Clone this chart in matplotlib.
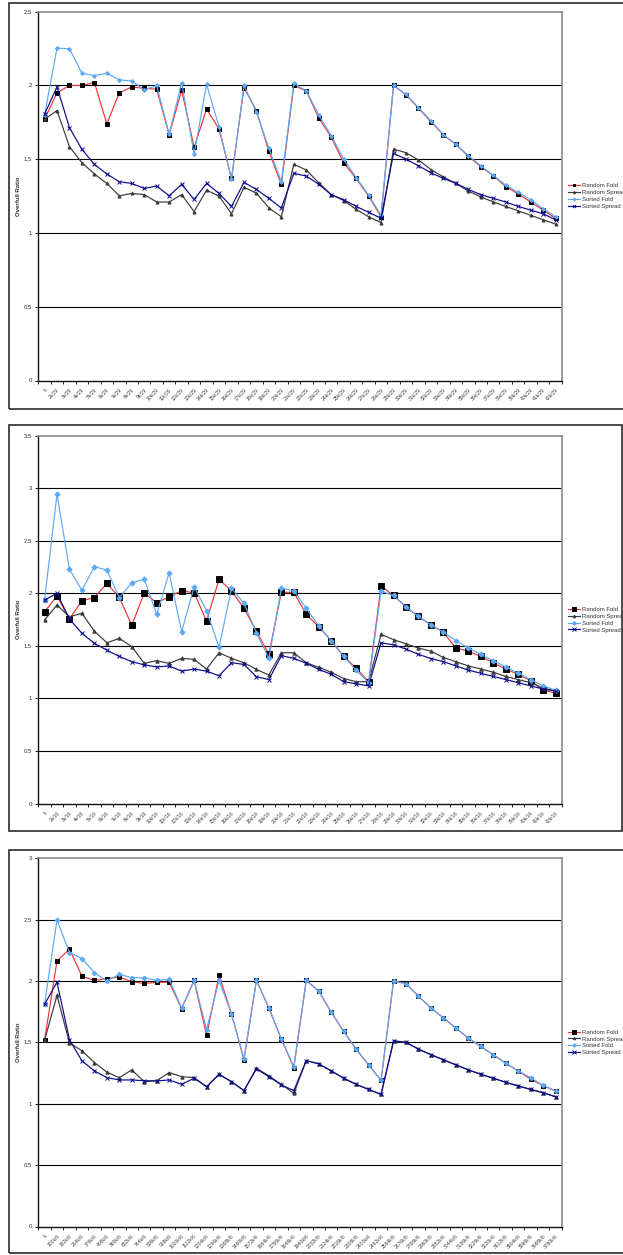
import matplotlib
matplotlib.use("Agg")
import matplotlib.pyplot as plt
from matplotlib.patches import Rectangle

plt.rcParams['font.family'] = ['Liberation Sans', 'DejaVu Sans']

# ---------------- data ----------------
series_names = ["Random Fold", "Random Spread", "Sorted Fold", "Sorted Spread"]

xl1 = ["k"] + [f"{i}k/29" for i in range(2, 43)]
xl2 = ["k"] + [f"{i}k/16" for i in range(2, 43)]
xl3 = ["k"] + [f"{8 + 92 * i}k/6" for i in range(1, 42)]

rf1 = [1.77, 1.95, 2.00, 2.00, 2.02, 1.74, 1.95, 1.99, 1.98, 1.975,
       1.665, 1.97, 1.58, 1.84, 1.705, 1.37, 1.985, 1.83, 1.553, 1.33,
       2.0, 1.963, 1.78, 1.65, 1.475, 1.37, 1.25, 1.11, 2.0, 1.936,
       1.846, 1.755, 1.664, 1.60, 1.52, 1.45, 1.388, 1.315, 1.265, 1.21,
       1.155, 1.10]
rs1 = [1.77, 1.83, 1.585, 1.476, 1.40, 1.336, 1.252, 1.268, 1.26, 1.21,
       1.21, 1.26, 1.145, 1.29, 1.25, 1.13, 1.31, 1.27, 1.17, 1.11,
       1.465, 1.427, 1.34, 1.26, 1.22, 1.16, 1.11, 1.07, 1.569, 1.544,
       1.495, 1.43, 1.38, 1.336, 1.284, 1.245, 1.21, 1.18, 1.15, 1.12,
       1.09, 1.06]
sf1 = [1.80, 2.253, 2.249, 2.083, 2.067, 2.083, 2.038, 2.03, 1.97, 2.0,
       1.67, 2.02, 1.533, 2.008, 1.72, 1.363, 2.0, 1.818, 1.574, 1.347,
       2.015, 1.963, 1.80, 1.66, 1.50, 1.376, 1.257, 1.12, 2.0, 1.94,
       1.85, 1.76, 1.667, 1.60, 1.525, 1.455, 1.39, 1.325, 1.275, 1.225,
       1.165, 1.11]
ss1 = [1.805, 1.99, 1.714, 1.567, 1.465, 1.40, 1.347, 1.336, 1.302, 1.318,
       1.252, 1.33, 1.227, 1.336, 1.268, 1.18, 1.343, 1.295, 1.234, 1.17,
       1.404, 1.386, 1.33, 1.26, 1.225, 1.18, 1.14, 1.10, 1.54, 1.50,
       1.456, 1.408, 1.37, 1.336, 1.295, 1.26, 1.235, 1.21, 1.18, 1.155,
       1.13, 1.09]

rf2 = [1.826, 1.975, 1.756, 1.93, 1.96, 2.095, 1.962, 1.695, 2.006, 1.91,
       1.968, 2.025, 2.006, 1.737, 2.133, 2.025, 1.857, 1.64, 1.42, 2.01,
       2.01, 1.80, 1.683, 1.55, 1.40, 1.29, 1.16, 2.07, 1.98, 1.87,
       1.78, 1.70, 1.63, 1.48, 1.45, 1.40, 1.34, 1.28, 1.23, 1.17,
       1.08, 1.05]
rs2 = [1.746, 1.889, 1.778, 1.81, 1.64, 1.53, 1.572, 1.493, 1.334, 1.36,
       1.334, 1.382, 1.372, 1.28, 1.435, 1.382, 1.34, 1.277, 1.223, 1.435,
       1.435, 1.34, 1.296, 1.25, 1.19, 1.16, 1.16, 1.61, 1.56, 1.52,
       1.48, 1.45, 1.39, 1.35, 1.31, 1.28, 1.25, 1.21, 1.18, 1.15,
       1.10, 1.07]
sf2 = [1.937, 2.942, 2.228, 2.03, 2.254, 2.222, 1.96, 2.10, 2.136, 1.80,
       2.197, 1.635, 2.063, 1.835, 1.486, 2.048, 1.905, 1.626, 1.382, 2.048,
       2.025, 1.857, 1.69, 1.55, 1.40, 1.27, 1.15, 2.02, 1.98, 1.87,
       1.78, 1.70, 1.63, 1.55, 1.48, 1.42, 1.36, 1.30, 1.24, 1.18,
       1.12, 1.08]
ss2 = [1.937, 2.0, 1.756, 1.62, 1.524, 1.46, 1.40, 1.35, 1.32, 1.30,
       1.31, 1.26, 1.28, 1.26, 1.216, 1.34, 1.324, 1.207, 1.18, 1.407,
       1.382, 1.334, 1.277, 1.23, 1.16, 1.14, 1.12, 1.53, 1.51, 1.47,
       1.42, 1.38, 1.35, 1.31, 1.27, 1.24, 1.21, 1.18, 1.15, 1.12,
       1.09, 1.07]

rf3 = [1.516, 2.164, 2.26, 2.04, 2.005, 2.02, 2.033, 1.995, 1.98, 1.99,
       1.99, 1.776, 2.005, 1.557, 2.046, 1.732, 1.358, 2.005, 1.78, 1.527,
       1.295, 2.005, 1.918, 1.746, 1.59, 1.445, 1.317, 1.19, 2.0, 1.978,
       1.877, 1.78, 1.70, 1.617, 1.535, 1.467, 1.40, 1.33, 1.268, 1.20,
       1.148, 1.104]
rs3 = [1.516, 1.883, 1.495, 1.432, 1.336, 1.257, 1.213, 1.276, 1.18, 1.188,
       1.254, 1.221, 1.213, 1.139, 1.24, 1.18, 1.107, 1.29, 1.227, 1.158,
       1.085, 1.352, 1.325, 1.268, 1.208, 1.158, 1.117, 1.076, 1.508, 1.50,
       1.445, 1.40, 1.358, 1.317, 1.276, 1.24, 1.208, 1.175, 1.145, 1.117,
       1.09, 1.057]
sf3 = [1.81, 2.497, 2.232, 2.183, 2.068, 2.0, 2.055, 2.027, 2.027, 2.005,
       2.014, 1.78, 2.005, 1.604, 2.005, 1.732, 1.366, 2.005, 1.78, 1.527,
       1.303, 2.005, 1.918, 1.746, 1.59, 1.445, 1.317, 1.19, 2.0, 1.978,
       1.877, 1.78, 1.70, 1.617, 1.535, 1.467, 1.40, 1.33, 1.268, 1.213,
       1.15, 1.104]
ss3 = [1.81, 1.99, 1.522, 1.35, 1.268, 1.213, 1.194, 1.194, 1.188, 1.186,
       1.194, 1.158, 1.208, 1.139, 1.24, 1.18, 1.107, 1.284, 1.221, 1.153,
       1.107, 1.352, 1.325, 1.268, 1.208, 1.158, 1.117, 1.076, 1.514, 1.50,
       1.445, 1.40, 1.358, 1.317, 1.276, 1.24, 1.208, 1.175, 1.145, 1.117,
       1.09, 1.057]

yticks1 = [0, 0.5, 1, 1.5, 2, 2.5]
yticks2 = [0, 0.5, 1, 1.5, 2, 2.5, 3, 3.5]
yticks3 = [0, 0.5, 1, 1.5, 2, 2.5, 3]

# ---------------- layout ----------------
W, H = 623, 1255
fig = plt.figure(figsize=(W / 100, H / 100), dpi=100)

def fx(x):
    return x / W

def fy(y):
    return 1 - y / H

styles = [
    dict(color='#EE3333', marker='s', mfc='black', mec='black'),
    dict(color='#3A3A3A', marker='^', mfc='#3A3A3A', mec='#3A3A3A'),
    dict(color='#5DA9F6', marker='D', mfc='#5DA9F6', mec='#5DA9F6'),
    dict(color='#0A0A8C', marker='x', mfc='#0A0A8C', mec='#0A0A8C'),
]

panels = [
    dict(box=(9, 3, 640, 409), top=11.7, bot=380.5, yt=yticks1, xl=xl1,
         data=(rf1, rs1, sf1, ss1), ms=[2.6, 2.2, 2.0, 2.8]),
    dict(box=(9, 425, 621.5, 831), top=435.7, bot=803.6, yt=yticks2, xl=xl2,
         data=(rf2, rs2, sf2, ss2), ms=[3.8, 2.4, 2.6, 3.2]),
    dict(box=(9, 850, 640, 1253), top=858.3, bot=1226.5, yt=yticks3, xl=xl3,
         data=(rf3, rs3, sf3, ss3), ms=[3.3, 2.4, 2.4, 3.2]),
]

L, R = 38.3, 561.8

for p in panels:
    bx0, by0, bx1, by1 = p['box']
    fig.patches.append(Rectangle((fx(bx0), fy(by1)), fx(bx1 - bx0), (by1 - by0) / H,
                                 transform=fig.transFigure, fill=False,
                                 edgecolor='#2b2b2b', linewidth=1.2, zorder=0))
    ax = fig.add_axes([fx(L), fy(p['bot']), fx(R - L), (p['bot'] - p['top']) / H])
    n = len(p['xl'])
    xs = list(range(n))
    handles = []
    for vals, st, ms, name in zip(p['data'], styles, p['ms'], series_names):
        h, = ax.plot(xs, vals, color=st['color'], lw=0.85, marker=st['marker'],
                     markersize=ms, markerfacecolor=st['mfc'],
                     markeredgecolor=st['mec'], markeredgewidth=0.7,
                     label=name, clip_on=False, zorder=3)
        handles.append(h)
    ymax = p['yt'][-1]
    ax.set_xlim(-0.5, n - 0.5)
    ax.set_ylim(0, ymax)
    for v in p['yt'][1:-1]:
        ax.axhline(v, color='black', lw=0.8, zorder=1)
    ax.set_yticks(p['yt'])
    ax.set_yticklabels([f"{v:g}" for v in p['yt']], fontsize=4.3, color='#333333')
    ax.set_xticks(xs)
    ax.set_xticklabels(p['xl'], rotation=45, ha='right', rotation_mode='anchor',
                       fontsize=3.6, color='#444444')
    ax.set_xticks([i - 0.5 for i in range(n + 1)], minor=True)
    ax.tick_params(axis='x', which='major', length=0, pad=5)
    ax.tick_params(axis='x', which='minor', length=2.5, width=0.7, direction='out',
                   color='#222222')
    ax.tick_params(axis='y', length=2.5, width=0.7, direction='out', pad=2,
                   color='#222222')
    for s in ['left', 'bottom']:
        ax.spines[s].set_color('#111111')
        ax.spines[s].set_linewidth(1.0)
    for s in ['top', 'right']:
        ax.spines[s].set_color('#8a8a8a')
        ax.spines[s].set_linewidth(1.2)
    ax.set_facecolor('white')
    yc = (p['top'] + p['bot']) / 2
    fig.text(fx(18), fy(yc), "Overfull Ratio", rotation=90, fontsize=4.3,
             fontweight='bold', color='#333333', ha='center', va='center')
    ax.legend(handles=handles, loc='center left', bbox_to_anchor=(fx(568), fy(yc)),
              bbox_transform=fig.transFigure, frameon=False, fontsize=4.3,
              handlelength=2.0, handletextpad=0.35, labelspacing=0.28,
              borderpad=0, borderaxespad=0, markerscale=0.75, labelcolor='#333333')

fig.savefig("out.png", dpi=100, facecolor='white')
